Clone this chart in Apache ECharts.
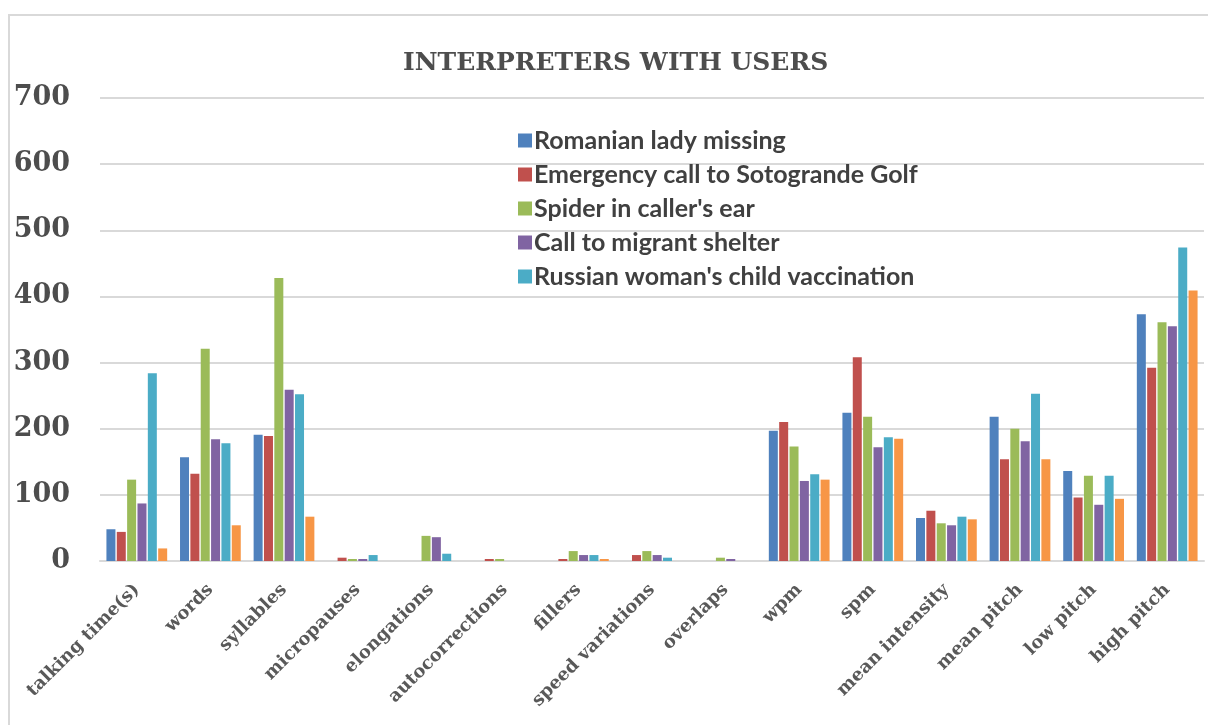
<!DOCTYPE html>
<html>
<head>
<meta charset="utf-8">
<script src="https://cdn.jsdelivr.net/npm/echarts@6/dist/echarts.min.js"></script>
<style>
html,body{margin:0;padding:0;background:#fff;}
#chart{width:1208px;height:725px;}
</style>
</head>
<body>
<div id="chart"></div>
<script>
const categories = ["talking time(s)","words","syllables","micropauses","elongations","autocorrections","fillers","speed variations","overlaps","wpm","spm","mean intensity","mean pitch","low pitch","high pitch"];
const seriesNames = ["Romanian lady missing","Emergency call to Sotogrande Golf","Spider in caller's ear","Call to migrant shelter","Russian woman's child vaccination","Series6"];
const romanian  = [48,157,191,0,0,0,0,0,0,197,224,65,218,136,373];
const emergency = [44,132,189,5,0,3,3,9,0,210,308,76,154,96,292];
const spider    = [123,321,428,3,38,3,15,15,5,173,218,57,200,129,361];
const migrant   = [87,184,259,3,36,0,9,9,3,121,172,54,181,85,355];
const russian   = [284,178,252,9,11,0,9,5,0,131,187,67,253,129,474];
const series6   = [19,54,67,0,0,0,3,0,0,123,185,63,154,94,409];
const yTicks = [0,100,200,300,400,500,600,700];
const colors = ["#4F81BD","#C0504D","#9BBB59","#8064A2","#4BACC6","#F79646"];
const allData = [romanian,emergency,spider,migrant,russian,series6];

const chart = echarts.init(document.getElementById('chart'));
const series = allData.map((d,i)=>({
  name: seriesNames[i],
  type: 'bar',
  data: d,
  barWidth: 9,
  barGap: '15%',
  itemStyle: {color: colors[i]},
  emphasis:{disabled:true}
}));
chart.setOption({
  animation:false,
  backgroundColor:'#ffffff',
  graphic:[{
    type:'rect', shape:{x:9,y:15,width:1240,height:760},
    style:{fill:'none',stroke:'#D9D9D9',lineWidth:2}, silent:true, z:-1
  }],
  title:{
    text:'INTERPRETERS WITH USERS',
    left:398, top:46,
    textStyle:{fontFamily:'DejaVu Serif',fontWeight:'bold',fontSize:25,color:'#4D4D4D'}
  },
  legend:{
    data: seriesNames.slice(0,5),
    orient:'vertical', left:513, top:123,
    itemWidth:14, itemHeight:14, itemGap:9,
    icon:'rect',
    textStyle:{fontFamily:'Lato',fontWeight:'bold',fontSize:25,color:'#404040',padding:[0,0,0,-3]}
  },
  grid:{left:100,right:4,top:98,bottom:164,containLabel:false},
  xAxis:{
    type:'category', data:categories,
    axisTick:{show:false},
    axisLine:{lineStyle:{color:'#D9D9D9',width:2}},
    axisLabel:{rotate:45, interval:0, margin:26,
      fontFamily:'DejaVu Serif',fontWeight:'bold',fontSize:18,color:'#595959'}
  },
  yAxis:{
    type:'value', min:0, max:700, interval:100,
    axisLine:{show:false}, axisTick:{show:false},
    splitLine:{lineStyle:{color:'#D9D9D9',width:2}},
    axisLabel:{margin:30, fontFamily:'DejaVu Serif',fontWeight:'bold',fontSize:27,color:'#4D4D4D',
      formatter:v=> yTicks.includes(v)? String(v):''}
  },
  series: series
});
</script>
</body>
</html>
